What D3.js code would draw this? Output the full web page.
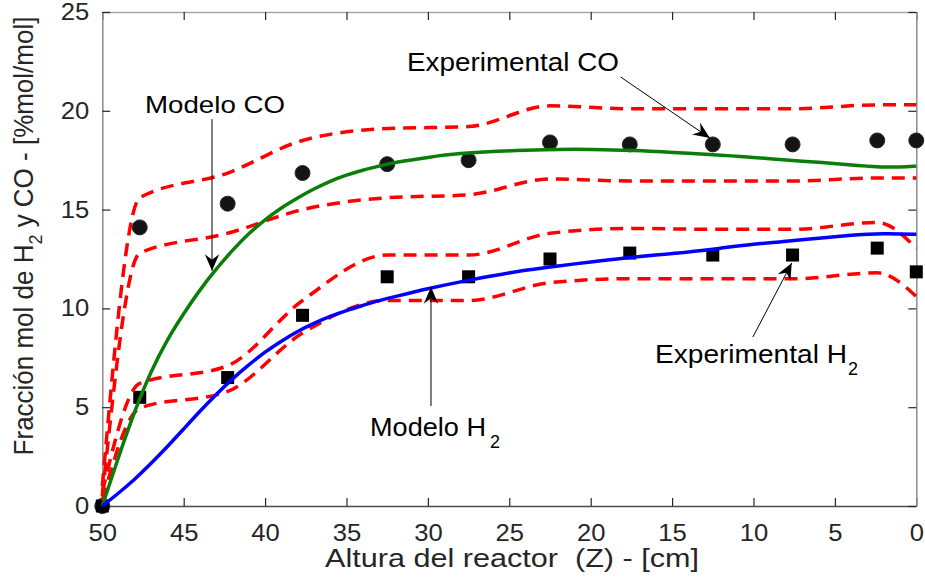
<!DOCTYPE html>
<html>
<head>
<meta charset="utf-8">
<script src="https://cdn.jsdelivr.net/npm/d3@7"></script>
<style>
  body { margin: 0; background: #fff; }
  svg { display: block; font-family: "Liberation Sans", Arial, sans-serif; }
</style>
</head>
<body>
<svg width="925" height="577"></svg>
<script>
// positions along the reactor where the samples were taken (cm)
var xExp = [50, 47.7, 42.3, 37.7, 32.5, 27.5, 22.5, 17.6, 12.5, 7.6, 2.4, 0];
var coExp = [0, 14.1, 15.3, 16.85, 17.3, 17.5, 18.4, 18.3, 18.3, 18.3, 18.5, 18.5];
var h2Exp = [0, 5.5, 6.5, 9.65, 11.6, 11.6, 12.5, 12.8, 12.7, 12.7, 13.05, 11.85];

// red dashed bands around the experiments
var coUpper = [1.0, 15.6, 16.85, 18.5, 19.1, 19.2, 20.25, 20.1, 20.1, 20.1, 20.3, 20.3];
var coLower = [0.5, 12.8, 13.8, 15.0, 15.6, 15.75, 16.55, 16.45, 16.45, 16.45, 16.6, 16.6];
var h2Upper = [0.7, 6.2, 7.1, 10.4, 12.7, 12.7, 13.8, 14.05, 14.0, 14.0, 14.35, 13.05];
var h2Lower = [0.3, 4.95, 5.8, 8.75, 10.4, 10.4, 11.3, 11.5, 11.5, 11.5, 11.8, 10.6];

// model curves
var xMod = [50, 49, 48, 47, 46, 45, 44, 43, 42, 41, 40, 39, 38, 37, 36, 35, 34, 33, 32, 30, 28, 26, 24, 22, 20, 18, 16, 14, 12, 10, 8, 6, 4, 3, 2, 1, 0];
var coMod = [0, 2.5, 4.85, 6.85, 8.45, 9.75, 10.95, 12.0, 12.95, 13.8, 14.5, 15.1, 15.6, 16.05, 16.45, 16.75, 17.0, 17.2, 17.4, 17.65, 17.85, 17.95, 18.0, 18.05, 18.05, 18.0, 17.95, 17.85, 17.75, 17.65, 17.5, 17.4, 17.25, 17.2, 17.15, 17.15, 17.2];
var h2Mod = [0, 0.65, 1.35, 2.15, 3.0, 3.9, 4.8, 5.65, 6.45, 7.15, 7.8, 8.35, 8.85, 9.25, 9.6, 9.9, 10.15, 10.4, 10.6, 11.0, 11.35, 11.65, 11.95, 12.15, 12.35, 12.55, 12.7, 12.85, 13.05, 13.25, 13.4, 13.55, 13.7, 13.75, 13.78, 13.77, 13.75];

var xTicks = [50, 45, 40, 35, 30, 25, 20, 15, 10, 5, 0];
var yTicks = [0, 5, 10, 15, 20, 25];

var svg = d3.select("svg");
var x = d3.scaleLinear().domain([50, 0]).range([102.3, 916.3]);
var y = d3.scaleLinear().domain([0, 25]).range([506, 12]);
var sx = 1.09; // text in the reference is a little wide

// axes (box with inward ticks)
var gB = svg.append("g").attr("transform", "translate(0," + y(0) + ")")
  .call(d3.axisBottom(x).tickValues(xTicks).tickSizeInner(-8).tickSizeOuter(0).tickPadding(18).tickFormat(d3.format("d")));
var gT = svg.append("g").attr("transform", "translate(0," + y(25) + ")")
  .call(d3.axisTop(x).tickValues(xTicks).tickSizeInner(-8).tickSizeOuter(0).tickFormat(""));
var gL = svg.append("g").attr("transform", "translate(" + x(50) + ",0)")
  .call(d3.axisLeft(y).tickValues(yTicks).tickSizeInner(-8).tickSizeOuter(0).tickPadding(12).tickFormat(d3.format("d")));
var gR = svg.append("g").attr("transform", "translate(" + x(0) + ",0)")
  .call(d3.axisRight(y).tickValues(yTicks).tickSizeInner(-8).tickSizeOuter(0).tickFormat(""));

[gB, gT, gL, gR].forEach(function(g) {
  g.selectAll(".tick line").attr("stroke", "#262626").attr("stroke-width", 1.2);
  g.selectAll("text").attr("font-size", 23.5).attr("fill", "#262626")
    .attr("font-family", "Liberation Sans, Arial, sans-serif");
});
gB.selectAll(".tick text").attr("transform", "scale(" + sx + ",1)");
gL.selectAll(".tick text").attr("transform", "scale(" + sx + ",1)");
gB.select(".domain").attr("stroke", "#4d4d4d").attr("stroke-width", 1.5);
gT.select(".domain").attr("stroke", "#a6a6a6").attr("stroke-width", 1.5);
gL.select(".domain").attr("stroke", "#8c8c8c").attr("stroke-width", 1.5);
gR.select(".domain").attr("stroke", "#8c8c8c").attr("stroke-width", 1.5);

// markers
var expData = xExp.map(function(v, i) { return {x: v, co: coExp[i], h2: h2Exp[i]}; });
svg.append("g").selectAll("circle").data(expData).enter().append("circle")
  .attr("cx", function(d) { return x(d.x); })
  .attr("cy", function(d) { return y(d.co); })
  .attr("r", 7.5)
  .attr("fill", "#141414").attr("stroke", "#2a2a2a").attr("stroke-width", 1);
svg.append("g").selectAll("rect").data(expData).enter().append("rect")
  .attr("x", function(d) { return x(d.x) - 6.5; })
  .attr("y", function(d) { return y(d.h2) - 6.5; })
  .attr("width", 13).attr("height", 13)
  .attr("fill", "#000");

// dashed bands
var band = d3.line().curve(d3.curveMonotoneX)
  .x(function(d) { return x(d[0]); })
  .y(function(d) { return y(d[1]); });
[coUpper, coLower, h2Upper, h2Lower].forEach(function(arr) {
  svg.append("path")
    .attr("d", band(xExp.map(function(v, i) { return [v, arr[i]]; })))
    .attr("fill", "none").attr("stroke", "#ff0000")
    .attr("stroke-width", 3.5).attr("stroke-dasharray", "13,8");
});

// model lines
var modLine = d3.line().curve(d3.curveBasis)
  .x(function(d) { return x(d[0]); })
  .y(function(d) { return y(d[1]); });
svg.append("path")
  .attr("d", modLine(xMod.map(function(v, i) { return [v, coMod[i]]; })))
  .attr("fill", "none").attr("stroke", "#0a7d0a").attr("stroke-width", 3.5);
svg.append("path")
  .attr("d", modLine(xMod.map(function(v, i) { return [v, h2Mod[i]]; })))
  .attr("fill", "none").attr("stroke", "#0000ff").attr("stroke-width", 3.5);

// arrows
svg.append("defs").append("marker")
  .attr("id", "head").attr("markerUnits", "userSpaceOnUse")
  .attr("markerWidth", 20).attr("markerHeight", 20)
  .attr("refX", 0).attr("refY", 0).attr("viewBox", "-16 -8 18 16")
  .attr("orient", "auto")
  .append("path").attr("d", "M0,0 L-15,-6.5 L-10,0 L-15,6.5 Z").attr("fill", "#000");

var arrows = [
  [43.26, 19.58, 43.26, 11.9],
  [18.16, 21.71, 12.68, 18.62],
  [10.04, 8.55, 7.65, 12.3],
  [29.81, 5.06, 29.81, 11.08]
];
svg.append("g").selectAll("line").data(arrows).enter().append("line")
  .attr("x1", function(d) { return x(d[0]); })
  .attr("y1", function(d) { return y(d[1]); })
  .attr("x2", function(d) { return x(d[2]); })
  .attr("y2", function(d) { return y(d[3]); })
  .attr("stroke", "#000").attr("stroke-width", 1)
  .attr("marker-end", "url(#head)");

// text helper, fitted to a width
function label(px, py, str, size, width, color) {
  return svg.append("text").attr("x", px).attr("y", py)
    .attr("font-size", size).attr("fill", color || "#000")
    .attr("textLength", width).attr("lengthAdjust", "spacingAndGlyphs")
    .text(str);
}
label(145, 113, "Modelo CO", 24, 140);
label(407, 71, "Experimental CO", 25, 212);
label(655, 363, "Experimental H", 25, 192);
label(848, 375, "2", 18, 10);
label(370, 436, "Modelo H", 25, 116);
label(490, 448, "2", 18, 10);

// axis titles
svg.append("text").attr("x", 325).attr("y", 567)
  .attr("font-size", 25).attr("fill", "#262626")
  .attr("textLength", 374).attr("lengthAdjust", "spacingAndGlyphs")
  .attr("xml:space", "preserve").style("white-space", "pre")
  .text("Altura del reactor  (Z) - [cm]");

var yt = svg.append("text")
  .attr("transform", "translate(33,236) scale(1.07,1) rotate(-90)")
  .attr("text-anchor", "middle")
  .attr("font-size", 26).attr("fill", "#262626");
yt.append("tspan").text("Fracción mol de H");
yt.append("tspan").attr("font-size", 18).attr("dy", 8).text("2");
yt.append("tspan").attr("dy", -8).text(" y CO - [%mol/mol]");
</script>
</body>
</html>
